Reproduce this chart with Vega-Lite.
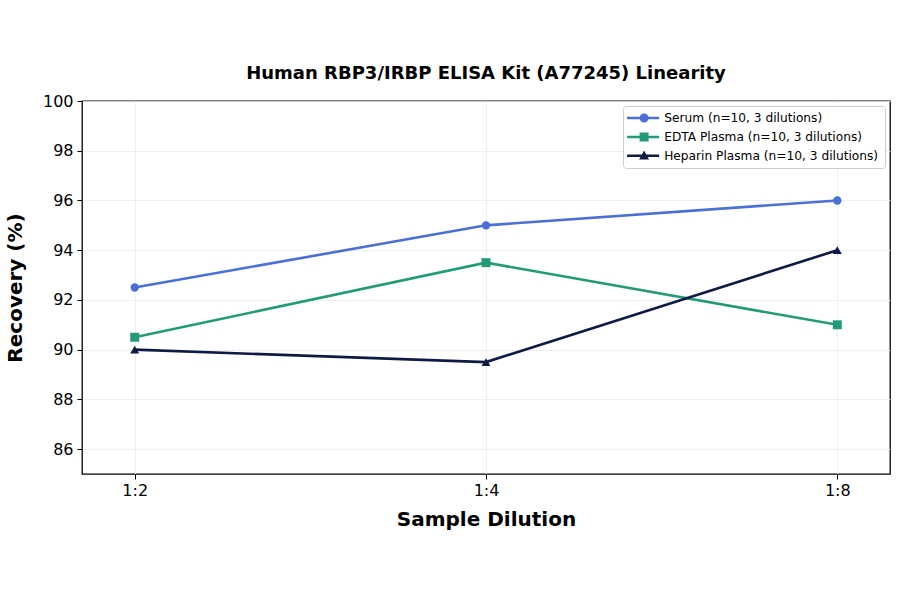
{
  "$schema": "https://vega.github.io/schema/vega-lite/v6.json",
  "autosize": "none",
  "width": 808,
  "height": 373,
  "padding": {"left": 82, "top": 101, "right": 10, "bottom": 120},
  "background": "white",
  "title": {"text": "Human RBP3/IRBP ELISA Kit (A77245) Linearity", "font": "DejaVu Sans", "fontSize": 18, "fontWeight": "bold", "color": "black", "anchor": "middle", "offset": 10},
  "config": {
    "font": "DejaVu Sans",
    "view": {"stroke": "black", "strokeWidth": 1.3},
    "axis": {"labelFont": "DejaVu Sans", "titleFont": "DejaVu Sans", "labelColor": "black", "titleColor": "black", "tickColor": "black", "domainColor": "black", "gridColor": "#ebebeb", "gridWidth": 0.8},
    "legend": {"orient": "top-right", "offset": 5, "labelFontSize": 12.2, "labelFont": "DejaVu Sans", "labelColor": "black", "labelLimit": 400, "labelOffset": 23, "strokeColor": "#cccccc", "fillColor": "white", "padding": 6, "cornerRadius": 3, "rowPadding": 5.8, "symbolSize": 100, "symbolStrokeWidth": 0, "symbolOpacity": 1}
  },
  "data": {"values": [
    {"dilution": "1:2", "series": "Serum (n=10, 3 dilutions)", "recovery": 92.5},
    {"dilution": "1:4", "series": "Serum (n=10, 3 dilutions)", "recovery": 95},
    {"dilution": "1:8", "series": "Serum (n=10, 3 dilutions)", "recovery": 96},
    {"dilution": "1:2", "series": "EDTA Plasma (n=10, 3 dilutions)", "recovery": 90.5},
    {"dilution": "1:4", "series": "EDTA Plasma (n=10, 3 dilutions)", "recovery": 93.5},
    {"dilution": "1:8", "series": "EDTA Plasma (n=10, 3 dilutions)", "recovery": 91},
    {"dilution": "1:2", "series": "Heparin Plasma (n=10, 3 dilutions)", "recovery": 90},
    {"dilution": "1:4", "series": "Heparin Plasma (n=10, 3 dilutions)", "recovery": 89.5},
    {"dilution": "1:8", "series": "Heparin Plasma (n=10, 3 dilutions)", "recovery": 94}
  ]},
  "encoding": {
    "x": {"field": "dilution", "type": "ordinal", "sort": ["1:2", "1:4", "1:8"],
      "scale": {"type": "point", "padding": 0.15},
      "axis": {"title": "Sample Dilution", "titleFontSize": 20, "titleFontWeight": "bold", "titlePadding": 11, "labelFontSize": 16, "labelAngle": 0, "labelPadding": 3, "tickSize": 5, "grid": true, "domain": false}},
    "y": {"field": "recovery", "type": "quantitative",
      "scale": {"domain": [85, 100], "nice": false, "zero": false},
      "axis": {"title": "Recovery (%)", "titleFontSize": 20, "titleFontWeight": "bold", "titlePadding": 17, "labelFontSize": 16, "values": [86, 88, 90, 92, 94, 96, 98, 100], "tickSize": 5, "labelPadding": 4, "grid": true, "domain": false}},
    "color": {"field": "series", "type": "nominal",
      "sort": ["Serum (n=10, 3 dilutions)", "EDTA Plasma (n=10, 3 dilutions)", "Heparin Plasma (n=10, 3 dilutions)"],
      "scale": {"domain": ["Serum (n=10, 3 dilutions)", "EDTA Plasma (n=10, 3 dilutions)", "Heparin Plasma (n=10, 3 dilutions)"], "range": ["#4a6fd6", "#239b78", "#0e1a45"]},
      "legend": {"title": null}}
  },
  "layer": [
    {"mark": {"type": "point", "filled": true, "opacity": 0},
     "encoding": {"shape": {"field": "series", "type": "nominal",
      "sort": ["Serum (n=10, 3 dilutions)", "EDTA Plasma (n=10, 3 dilutions)", "Heparin Plasma (n=10, 3 dilutions)"],
      "scale": {"domain": ["Serum (n=10, 3 dilutions)", "EDTA Plasma (n=10, 3 dilutions)", "Heparin Plasma (n=10, 3 dilutions)"], "range": ["M-1.6,-0.25H4.8V0.25H-1.6ZM2.7,0A0.9,0.9,0,1,1,0.9,0A0.9,0.9,0,1,1,2.7,0Z", "M-1.6,-0.25H4.8V0.25H-1.6ZM0.9,-0.9H2.7V0.9H0.9Z", "M-1.6,-0.25H4.8V0.25H-1.6ZM1.8,-1.05L2.8,0.75H0.8Z"]},
      "legend": {"title": null}}}},
    {"mark": {"type": "line", "strokeWidth": 2.6}},
    {"transform": [{"filter": "indexof(datum.series, 'Serum') === 0"}], "mark": {"type": "point", "filled": true, "size": 70, "opacity": 1, "shape": "circle"}},
    {"transform": [{"filter": "indexof(datum.series, 'EDTA') === 0"}], "mark": {"type": "point", "filled": true, "size": 80, "opacity": 1, "shape": "square"}},
    {"transform": [{"filter": "indexof(datum.series, 'Heparin') === 0"}], "mark": {"type": "point", "filled": true, "size": 80, "opacity": 1, "shape": "triangle-up"}}
  ]
}
